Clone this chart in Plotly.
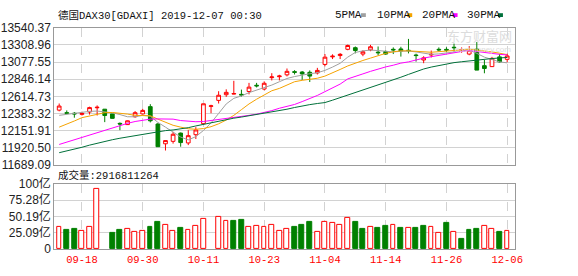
import plotly.graph_objects as go

W, H = 578, 276

dates = ["09-13", "09-16", "09-17", "09-18", "09-19", "09-20", "09-23", "09-24", "09-25", "09-26",
         "09-27", "09-30", "10-01", "10-02", "10-04", "10-07", "10-08", "10-09", "10-10", "10-11",
         "10-14", "10-15", "10-16", "10-17", "10-18", "10-21", "10-22", "10-23", "10-24", "10-25",
         "10-28", "10-29", "10-30", "10-31", "11-01", "11-04", "11-05", "11-06", "11-07", "11-08",
         "11-11", "11-12", "11-13", "11-14", "11-15", "11-18", "11-19", "11-20", "11-21", "11-22",
         "11-25", "11-26", "11-27", "11-28", "11-29", "12-02", "12-03", "12-04", "12-05", "12-06"]

open_ = [12429.7, 12395.2, 12387.5, 12372.2, 12404.1, 12461.6, 12442.4, 12378.6, 12250.9, 12234.3,
         12340.3, 12378.6, 12476.9, 12242.3, 11975.2, 12008.4, 12119.4, 11986.6, 12097.7, 12247.1,
         12480.7, 12561.2, 12637.8, 12646.7, 12642.9, 12681.2, 12765.4, 12714.4, 12868.4, 12881.1,
         12905.9, 12949.3, 12944.2, 12940.3, 12931.5, 13046.3, 13148.6, 13166.5, 13250.8, 13272.5,
         13186.8, 13243.0, 13212.3, 13221.2, 13250.8, 13255.8, 13237.9, 13174.0, 13106.3, 13174.0,
         13250.8, 13250.0, 13278.9, 13237.9, 13186.8, 13255.8, 13029.7, 13017.0, 13148.6, 13115.3]
high = [12519.0, 12425.8, 12404.1, 12407.9, 12476.2, 12493.5, 12442.4, 12378.6, 12263.7, 12289.2,
        12416.9, 12446.3, 12510.1, 12255.0, 12018.6, 12136.0, 12127.1, 12159.0, 12199.9, 12515.2,
        12502.4, 12685.0, 12710.5, 12825.4, 12706.7, 12797.4, 12797.4, 12817.8, 12928.4, 12906.7,
        12991.6, 12969.7, 12957.0, 12965.8, 13000.3, 13186.8, 13183.1, 13199.7, 13314.6, 13289.0,
        13237.9, 13310.7, 13289.0, 13234.0, 13276.3, 13285.1, 13391.0, 13191.9, 13157.6, 13234.0,
        13276.3, 13278.9, 13327.4, 13276.3, 13294.1, 13349.0, 13106.3, 13148.6, 13186.8, 13191.9]
low = [12413.1, 12374.8, 12327.5, 12356.9, 12369.6, 12356.9, 12267.5, 12314.8, 12159.0, 12229.2,
       12327.5, 12369.6, 12263.7, 11935.6, 11884.5, 11977.7, 11935.6, 11957.3, 12039.7, 12234.3,
       12387.5, 12519.0, 12608.4, 12642.9, 12612.2, 12642.9, 12736.1, 12697.8, 12830.5, 12830.5,
       12885.0, 12910.8, 12838.2, 12809.2, 12910.8, 13020.8, 13119.2, 13119.2, 13238.1, 13195.8,
       13157.6, 13225.1, 13170.2, 13179.1, 13186.8, 13152.6, 13195.8, 13084.6, 13063.0, 13140.7,
       13221.2, 13217.4, 13221.2, 13204.6, 13170.2, 12969.8, 12927.2, 13013.2, 13072.0, 13076.8]
close = [12484.6, 12387.5, 12378.6, 12385.0, 12464.1, 12468.0, 12356.9, 12318.6, 12242.3, 12285.4,
         12395.2, 12425.8, 12285.4, 11935.6, 12018.6, 12104.1, 11991.7, 12085.0, 12161.6, 12515.2,
         12487.1, 12630.4, 12669.7, 12653.1, 12633.9, 12740.0, 12757.1, 12792.2, 12877.3, 12890.1,
         12953.3, 12940.3, 12918.7, 12889.3, 12965.8, 13144.6, 13157.6, 13183.1, 13301.9, 13234.2,
         13217.4, 13285.1, 13204.6, 13186.8, 13243.0, 13228.0, 13232.0, 13166.5, 13135.7, 13183.1,
         13243.0, 13240.0, 13272.5, 13244.5, 13234.0, 12969.8, 12991.6, 13128.0, 13080.9, 13161.3]

ma5 = [12359, 12375, 12388, 12398, 12413, 12417, 12408, 12394, 12370, 12340,
       12340, 12359, 12349, 12264, 12200, 12136, 12066, 12028, 12072, 12155,
       12257, 12385, 12513, 12589, 12621, 12666, 12698, 12730, 12768, 12813,
       12857, 12883, 12905, 12921, 12934, 12966, 13011, 13062, 13145, 13208,
       13230, 13240, 13234, 13221, 13215, 13224, 13228, 13215, 13196, 13183,
       13189, 13202, 13221, 13234, 13240, 13196, 13145, 13113, 13081, 13068]
ma10 = [12200, 12238, 12283, 12328, 12353, 12379, 12395, 12398, 12391, 12376,
        12359, 12353, 12353, 12308, 12264, 12225, 12200, 12178, 12171, 12181,
        12206, 12245, 12296, 12359, 12436, 12513, 12577, 12640, 12691, 12723,
        12768, 12813, 12832, 12845, 12860, 12889, 12930, 12979, 13026, 13066,
        13100, 13132, 13164, 13196, 13217, 13230, 13230, 13221, 13212, 13211,
        13219, 13225, 13234, 13243, 13253, 13243, 13228, 13215, 13198, 13179]
ma20 = [11966, 11998, 12030, 12063, 12094, 12126, 12155, 12187, 12215, 12251,
        12276, 12296, 12308, 12311, 12311, 12308, 12289, 12280, 12273, 12276,
        12289, 12299, 12315, 12328, 12344, 12359, 12375, 12394, 12423, 12455,
        12478, 12506, 12545, 12583, 12628, 12679, 12730, 12781, 12851, 12889,
        12919, 12953, 12985, 13013, 13036, 13064, 13081, 13110, 13132, 13151,
        13170, 13189, 13206, 13221, 13234, 13221, 13202, 13189, 13183, 13175]
ma30 = [11855, 11877, 11902, 11928, 11957, 11983, 12005, 12030, 12050, 12068,
        12088, 12107, 12126, 12142, 12153, 12162, 12174, 12193, 12216, 12238,
        12260, 12280, 12302, 12321, 12336, 12353, 12368, 12385, 12410, 12426,
        12442, 12465, 12487, 12504, 12519, 12532, 12564, 12598, 12634, 12666,
        12694, 12730, 12768, 12802, 12834, 12874, 12912, 12951, 12985, 13011,
        13034, 13055, 13071, 13083, 13096, 13109, 13115, 13126, 13134, 13141]

# volume in 亿 (1e8); None = no bar shown
volume = [33.5, 29.1, 30.5, 28.6, 34.9, 93.1, None, 24.7, 29.1, 30.5,
          26.2, 28.6, 33.9, 42.2, 37.3, 27.6, 32.5, 29.1, 36.4, 46.5,
          None, 49.5, 43.6, 43.6, 45.6, 34.9, 36.4, 33.9, 37.8, 28.6,
          30.5, 33.9, 37.8, 42.2, 27.2, 42.2, 40.2, 37.3, 47.5, 42.2,
          30.5, 33.5, 32.0, 36.4, 37.3, 32.0, 32.0, 32.0, 36.4, 33.5,
          25.7, 40.7, 27.2, 16.0, 29.1, 30.5, 35.9, 30.5, 26.2, 28.6]

price_ticks = [11689.09, 11920.50, 12151.91, 12383.32, 12614.73, 12846.14, 13077.55, 13308.96, 13540.37]
price_tick_text = ["11689.09", "11920.50", "12151.91", "12383.32", "12614.73", "12846.14", "13077.55", "13308.96", "13540.37"]
vol_ticks = [0, 25.09, 50.19, 75.28, 100.37]
vol_tick_text = ["0", "25.09亿", "50.19亿", "75.28亿", "100亿"]
x_tick_labels = ["09-18", "09-30", "10-11", "10-23", "11-04", "11-14", "11-26", "12-06"]

title_text = "德国DAX30[GDAXI] 2019-12-07 00:30"
vol_title = "成交量:2916811264"
ma_names = ["5PMA", "10PMA", "20PMA", "30PMA"]

RED = "#FF0000"
GREEN = "#008000"
MA_COLORS = ["#A0A0A0", "#F5A300", "#FF00FF", "#00703A"]
GRID = "#D2D2D2"
BORDER = "#999999"


def px_x(p):
    return p / W


def px_y(p):
    return 1 - p / H


fig = go.Figure()

fig.add_trace(go.Candlestick(
    x=dates, open=open_, high=high, low=low, close=close,
    increasing=dict(line=dict(color=RED, width=1), fillcolor="#FFFFFF"),
    decreasing=dict(line=dict(color=GREEN, width=1), fillcolor=GREEN),
    whiskerwidth=0, hoverinfo="skip", showlegend=False,
    xaxis="x", yaxis="y"))

for name, vals, col in zip(ma_names, [ma5, ma10, ma20, ma30], MA_COLORS):
    fig.add_trace(go.Scatter(x=dates, y=vals, mode="lines", name=name,
                             line=dict(color=col, width=1), hoverinfo="skip",
                             showlegend=False, xaxis="x", yaxis="y"))

up = [True] + [close[i] >= close[i - 1] for i in range(1, len(close))]
fig.add_trace(go.Bar(
    x=dates, y=volume, width=0.64,
    marker=dict(color=["#FFFFFF" if u else GREEN for u in up],
                line=dict(color=[RED if u else GREEN for u in up], width=1)),
    hoverinfo="skip", showlegend=False, xaxis="x2", yaxis="y2"))

xr = [-0.65, 60.0]
main_dom_x = [px_x(55), px_x(522)]

common_x = dict(type="category", range=xr, domain=main_dom_x, tickmode="array",
                tickvals=x_tick_labels, showgrid=True, gridcolor=GRID, griddash="dash",
                gridwidth=1, showline=True, mirror=True, linecolor=BORDER, linewidth=1,
                ticks="", zeroline=False, fixedrange=True)

fig.update_layout(
    width=W, height=H, margin=dict(l=0, r=0, t=0, b=0),
    paper_bgcolor="#FFFFFF", plot_bgcolor="#FFFFFF",
    showlegend=False, hovermode=False, bargap=0,
    xaxis=dict(**common_x, anchor="y", showticklabels=False, rangeslider=dict(visible=False)),
    xaxis2=dict(**common_x, anchor="y2", ticktext=x_tick_labels, showticklabels=True,
                tickfont=dict(family="Liberation Mono", size=10.5, color=RED)),
    yaxis=dict(domain=[px_y(166), px_y(21)], range=[price_ticks[0], price_ticks[-1]],
               tickmode="array", tickvals=price_ticks, ticktext=price_tick_text,
               tickfont=dict(family="Liberation Sans", size=12, color="#222222"),
               showgrid=True, gridcolor=GRID, gridwidth=1, showline=True, mirror=True,
               linecolor=BORDER, linewidth=1, ticks="", zeroline=False, anchor="x",
               fixedrange=True),
    yaxis2=dict(domain=[px_y(255), px_y(186)], range=[0, vol_ticks[-1]],
                tickmode="array", tickvals=vol_ticks, ticktext=vol_tick_text,
                tickfont=dict(family="Liberation Sans, Noto Sans CJK SC", size=12, color="#222222"),
                showgrid=True, gridcolor=GRID, gridwidth=1, showline=True, mirror=True,
                linecolor=BORDER, linewidth=1, ticks="", zeroline=False, anchor="x2",
                fixedrange=True),
)

mono_cjk = "Liberation Mono, Noto Sans CJK SC"
annotations = [
    dict(text=title_text, x=px_x(57), y=px_y(7.5), xref="paper", yref="paper",
         xanchor="left", yanchor="middle", showarrow=False,
         font=dict(family=mono_cjk, size=10.5, color="#111111")),
    dict(text=vol_title, x=px_x(57), y=px_y(177), xref="paper", yref="paper",
         xanchor="left", yanchor="middle", showarrow=False,
         font=dict(family=mono_cjk, size=10.5, color="#111111")),
    dict(text="东方财富网", x=px_x(486), y=px_y(29), xref="paper", yref="paper",
         xanchor="center", yanchor="middle", showarrow=False,
         font=dict(family="Noto Sans CJK SC", size=13, color="#DCDCDC")),
    dict(text="eastmoney.com", x=px_x(490), y=px_y(44), xref="paper", yref="paper",
         xanchor="center", yanchor="middle", showarrow=False,
         font=dict(family="Liberation Sans", size=8, color="#DCDCDC")),
]
shapes = []
legend_text_x = [338, 380, 426, 472]
legend_sq_x = [366, 413, 459, 505]
for name, tx, sx, col in zip(ma_names, legend_text_x, legend_sq_x, MA_COLORS):
    annotations.append(dict(text=name, x=px_x(tx), y=px_y(7.5), xref="paper", yref="paper",
                            xanchor="left", yanchor="middle", showarrow=False,
                            font=dict(family="Liberation Mono", size=11, color="#111111")))
    shapes.append(dict(type="rect", xref="paper", yref="paper",
                       x0=px_x(sx), x1=px_x(sx + 5), y0=px_y(9.5), y1=px_y(5.5),
                       fillcolor=col, line=dict(width=0)))

fig.update_layout(annotations=annotations, shapes=shapes)

fig.write_html("out.html")
